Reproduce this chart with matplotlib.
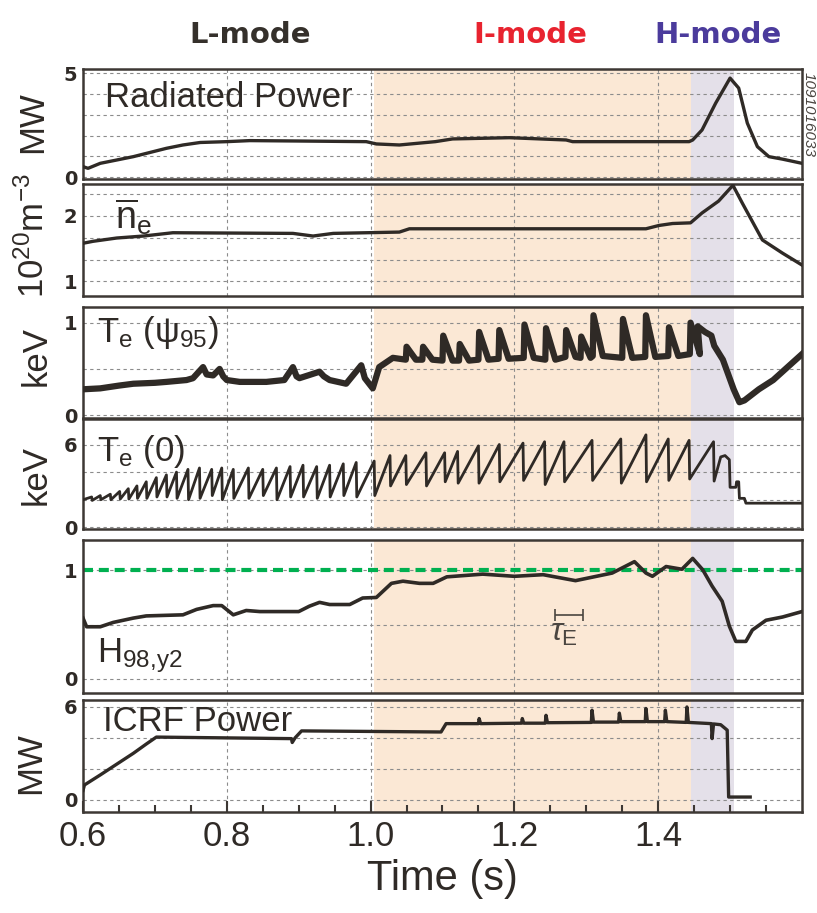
import matplotlib.pyplot as plt

plt.rcParams['font.family'] = ['Liberation Sans', 'DejaVu Sans']
plt.rcParams['mathtext.fontset'] = 'custom'
plt.rcParams['mathtext.rm'] = 'Liberation Sans'
plt.rcParams['mathtext.it'] = 'Liberation Sans:italic'
plt.rcParams['mathtext.bf'] = 'Liberation Sans:bold'

##### data ######

imode = (1.005, 1.445)
hmode = (1.445, 1.505)

prad_t = [0.600, 0.607, 0.624, 0.647, 0.670, 0.693, 0.716, 0.739, 0.763, 0.800, 0.832,
          0.901, 0.994, 1.008, 1.040, 1.090, 1.114, 1.193, 1.272, 1.281, 1.443, 1.448,
          1.461, 1.480, 1.500, 1.512, 1.524, 1.538, 1.554, 1.573, 1.600]
prad_v = [0.51, 0.43, 0.67, 0.83, 0.99, 1.19, 1.39, 1.55, 1.67, 1.71, 1.76,
          1.74, 1.71, 1.60, 1.55, 1.71, 1.84, 1.90, 1.79, 1.71, 1.71, 1.79,
          2.27, 3.56, 4.76, 4.28, 2.60, 1.47, 0.99, 0.87, 0.67]

ne_t = [0.600, 0.614, 0.647, 0.684, 0.725, 0.892, 0.920, 0.948, 1.040, 1.054, 1.383,
        1.401, 1.420, 1.445, 1.461, 1.484, 1.504, 1.517, 1.545, 1.573, 1.600]
ne_v = [1.58, 1.61, 1.66, 1.69, 1.74, 1.73, 1.69, 1.73, 1.75, 1.80, 1.80,
        1.85, 1.88, 1.89, 2.04, 2.22, 2.46, 2.19, 1.63, 1.43, 1.25]

# Te(psi95): L-mode trace, then bursts in I-mode (peak, decay back to base), then H-mode
te95_l_t = [0.600, 0.624, 0.650, 0.670, 0.700, 0.716, 0.744, 0.753, 0.767, 0.772, 0.781,
            0.790, 0.795, 0.800, 0.818, 0.855, 0.880, 0.892, 0.897, 0.901, 0.929, 0.935,
            0.943, 0.966, 0.987, 0.992, 1.003, 1.012, 1.031]
te95_l_v = [0.28, 0.29, 0.32, 0.34, 0.35, 0.36, 0.38, 0.40, 0.52, 0.44, 0.43,
            0.50, 0.42, 0.38, 0.36, 0.36, 0.38, 0.52, 0.42, 0.40, 0.47, 0.42,
            0.38, 0.34, 0.54, 0.40, 0.29, 0.52, 0.62]
te95_peak_t = [1.050, 1.073, 1.101, 1.124, 1.151, 1.179, 1.214, 1.244, 1.272, 1.293,
               1.310, 1.351, 1.383, 1.415, 1.445]
te95_peak_v = [0.74, 0.74, 0.86, 0.77, 0.90, 0.92, 0.98, 0.94, 0.92, 0.85,
               1.08, 1.04, 1.08, 0.95, 1.00]
te95_base_v = [0.60, 0.60, 0.59, 0.59, 0.60, 0.61, 0.62, 0.60, 0.63, 0.62,
               0.64, 0.62, 0.63, 0.64, 0.66]
te95_decay = 0.013
te95_h_t = [1.455, 1.465, 1.474, 1.478, 1.490, 1.505, 1.513, 1.520, 1.540, 1.560, 1.580, 1.600]
te95_h_v = [0.96, 0.90, 0.86, 0.75, 0.60, 0.28, 0.14, 0.16, 0.28, 0.38, 0.52, 0.66]

# Te(0) sawteeth: crash time, value before crash, value after crash
saw_t = [0.612, 0.624, 0.638, 0.651, 0.663, 0.675, 0.688, 0.702, 0.716, 0.730, 0.746,
         0.762, 0.779, 0.793, 0.809, 0.830, 0.850, 0.869, 0.888, 0.906, 0.925, 0.943,
         0.962, 0.980, 1.005, 1.027, 1.049, 1.077, 1.103, 1.121, 1.150, 1.179, 1.212,
         1.242, 1.269, 1.308, 1.348, 1.383, 1.414, 1.443, 1.477]
saw_top = [2.2, 2.3, 2.4, 2.6, 2.8, 3.0, 3.3, 3.6, 3.8, 4.0, 4.2,
           4.3, 4.2, 4.3, 4.2, 4.3, 4.2, 4.3, 4.4, 4.5, 4.4, 4.5,
           4.6, 4.7, 4.8, 5.2, 5.2, 5.4, 5.4, 5.5, 5.9, 6.0, 6.1,
           6.2, 6.2, 6.3, 6.4, 6.7, 6.4, 6.3, 6.2]
saw_bot = [1.95, 2.0, 2.0, 2.05, 2.05, 2.1, 2.1, 2.2, 2.2, 2.1, 2.0,
           2.1, 2.3, 2.0, 2.1, 2.1, 2.3, 2.0, 2.2, 2.2, 2.1, 2.2,
           2.3, 2.2, 2.3, 3.0, 3.1, 3.0, 3.3, 3.2, 3.2, 3.3, 3.4,
           3.1, 3.3, 3.4, 3.2, 3.3, 3.4, 3.5, 3.35]
te0_start = (0.600, 2.0)
te0_tail_t = [1.487, 1.493, 1.499, 1.500, 1.508, 1.509, 1.512, 1.513, 1.520, 1.522, 1.600]
te0_tail_v = [5.1, 5.2, 4.9, 2.9, 2.9, 3.3, 3.3, 2.1, 2.1, 1.75, 1.75]

h98_t = [0.600, 0.605, 0.624, 0.642, 0.670, 0.688, 0.739, 0.758, 0.781, 0.793, 0.809,
         0.827, 0.846, 0.900, 0.915, 0.929, 0.943, 0.971, 0.989, 1.008, 1.029, 1.045,
         1.068, 1.087, 1.106, 1.156, 1.200, 1.240, 1.285, 1.336, 1.367, 1.383, 1.392,
         1.411, 1.433, 1.448, 1.462, 1.475, 1.489, 1.499, 1.508, 1.522, 1.531, 1.550,
         1.573, 1.600]
h98_v = [0.56, 0.48, 0.48, 0.52, 0.56, 0.58, 0.59, 0.64, 0.675, 0.675, 0.59,
         0.63, 0.62, 0.62, 0.67, 0.705, 0.685, 0.685, 0.745, 0.75, 0.88, 0.90,
         0.88, 0.88, 0.94, 0.965, 0.945, 0.96, 0.905, 0.975, 1.08, 0.975, 0.945,
         1.035, 1.01, 1.11, 1.005, 0.855, 0.715, 0.485, 0.345, 0.345, 0.45, 0.54,
         0.57, 0.62]
tau_e = (1.2755, 0.0195)

icrf_t = [0.600, 0.602, 0.624, 0.647, 0.670, 0.688, 0.702, 0.890, 0.891, 0.895, 0.904,
          1.098, 1.105, 1.150, 1.151, 1.153, 1.210, 1.211, 1.213, 1.243, 1.244, 1.246,
          1.307, 1.308, 1.310, 1.345, 1.346, 1.348, 1.382, 1.383, 1.385, 1.409, 1.410,
          1.412, 1.439, 1.440, 1.442, 1.474, 1.475, 1.477, 1.487, 1.496, 1.498, 1.528]
icrf_v = [0.6, 0.95, 1.6, 2.3, 3.0, 3.6, 4.05, 3.95, 3.7, 4.0, 4.45,
          4.38, 4.92, 4.92, 5.25, 4.92, 4.95, 5.25, 4.95, 4.95, 5.46, 4.98,
          5.0, 5.79, 5.02, 5.02, 5.6, 5.05, 5.05, 5.9, 5.05, 5.05, 5.79,
          5.05, 5.0, 6.0, 5.0, 4.92, 3.95, 4.9, 4.85, 4.5, 0.17, 0.17]

##### figure ######

INK = '#2f2a26'
FRAME = '#3d3834'
GRID = '#8c8c8c'

fig = plt.figure(figsize=(8.17, 9.13), dpi=100)
L, W = 0.1016, 0.880
boxes = [(0.804, 0.1205), (0.6758, 0.1227), (0.5422, 0.1216),
         (0.4206, 0.1205), (0.2410, 0.1676), (0.1106, 0.1227)]
axs = [fig.add_axes([L, b, W, h]) for b, h in boxes]

ylims = [(-0.08, 5.2), (0.78, 2.48), (-0.03, 1.17), (-0.12, 7.85), (-0.13, 1.28), (-0.8, 6.45)]
ygrid = [[0, 1, 2, 3, 4, 5], [1, 4/3, 5/3, 2, 7/3], [0, 0.5, 1], [0, 2, 4, 6], [0, 0.5, 1], [0, 2, 4, 6]]
ylabs = [['0', '', '', '', '', '5'], ['1', '', '', '2', ''], ['0', '', '1'],
         ['0', '', '', '6'], ['0', '', '1'], ['0', '', '', '6']]

for ax, yl, yg, lab in zip(axs, ylims, ygrid, ylabs):
    ax.set_xlim(0.6, 1.6)
    ax.set_ylim(yl)
    ax.axvspan(*imode, color='#fbe8d5', lw=0, zorder=0)
    ax.axvspan(*hmode, color='#e4e0e9', lw=0, zorder=0)
    ax.set_yticks(yg, labels=lab)
    ax.set_xticks([0.8, 1.0, 1.2, 1.4])
    ax.grid(True, color=GRID, ls=(0, (3, 3)), lw=0.8, zorder=1)
    ax.tick_params(axis='both', length=0, labelsize=14, colors=INK, pad=4)
    for lbl in ax.get_yticklabels():
        lbl.set_fontweight('bold')
        lbl.set_family('DejaVu Sans')
    ax.tick_params(axis='x', labelbottom=False)
    for s in ax.spines.values():
        s.set_color(FRAME)
        s.set_linewidth(1.8)

lw = 2.4
axs[0].plot(prad_t, prad_v, color=INK, lw=lw, zorder=3)
axs[1].plot(ne_t, ne_v, color=INK, lw=lw, zorder=3)

t95 = list(te95_l_t)
v95 = list(te95_l_v)
for tp, vp, vb in zip(te95_peak_t, te95_peak_v, te95_base_v):
    t95 += [tp - 0.001, tp, tp + te95_decay]
    v95 += [vb, vp, vb]
t95 += te95_h_t
v95 += te95_h_v
axs[2].plot(t95, v95, color=INK, lw=4.5, zorder=3)

t0 = [te0_start[0]]
v0 = [te0_start[1]]
for tc, vt, vb in zip(saw_t, saw_top, saw_bot):
    t0 += [tc, tc + 0.0008]
    v0 += [vt, vb]
t0 += te0_tail_t
v0 += te0_tail_v
axs[3].plot(t0, v0, color=INK, lw=2.0, zorder=3)

axs[4].axhline(1.0, color='#00b050', lw=3, dashes=(2.4, 1.4), zorder=2)
axs[4].plot(h98_t, h98_v, color=INK, lw=2.6, zorder=3)
axs[4].errorbar(tau_e[0], 0.59, xerr=tau_e[1], color='#4a4540', lw=1.2, capsize=4, capthick=1.2)
axs[4].text(tau_e[0] - 0.006, 0.42, r'$\tau_\mathrm{E}$', fontsize=23, color='#4a4540', ha='center', va='center')

axs[5].plot(icrf_t, icrf_v, color=INK, lw=lw, zorder=3)

# panel titles
axs[0].text(0.03, 0.65, 'Radiated Power', fontsize=25, color=INK, transform=axs[0].transAxes)
axs[1].text(0.045, 0.6, r'$\overline{\mathrm{n}}_\mathrm{e}$', fontsize=27, color=INK, transform=axs[1].transAxes)
axs[2].text(0.02, 0.68, r'T$_\mathrm{e}$ ($\mathrm{\psi}_{95}$)', fontsize=25, color=INK, transform=axs[2].transAxes)
axs[3].text(0.02, 0.62, r'T$_\mathrm{e}$ (0)', fontsize=25, color=INK, transform=axs[3].transAxes)
axs[4].text(0.02, 0.2, r'H$_\mathrm{98{,}y2}$', fontsize=25, color=INK, transform=axs[4].transAxes)
axs[5].text(0.028, 0.72, 'ICRF Power', fontsize=25, color=INK, transform=axs[5].transAxes)

# bottom axis
ax = axs[-1]
ax.set_xticks([0.6, 0.8, 1.0, 1.2, 1.4], labels=['0.6', '0.8', '1.0', '1.2', '1.4'])
ax.set_xticks([0.65, 0.7, 0.75, 0.85, 0.9, 0.95, 1.05, 1.1, 1.15, 1.25, 1.3, 1.35,
               1.45, 1.5, 1.55], minor=True)
ax.tick_params(axis='x', which='major', direction='in', length=8, width=1.5,
               labelbottom=True, labelsize=25, pad=6, color=FRAME)
ax.tick_params(axis='x', which='minor', direction='in', length=5, width=1.5, color=FRAME)
ax.grid(True, which='major', color=GRID, ls=(0, (3, 3)), lw=0.8)
ax.set_xlabel('Time (s)', fontsize=30, color=INK, labelpad=4)

# y labels
fig.text(33/817, 1 - 122/913, 'MW', rotation=90, fontsize=25, color=INK, ha='center', va='center')
fig.text(34/817, 1 - 236/913, r'10$^{20}$m$^{-3}$', rotation=90, fontsize=25, color=INK, ha='center', va='center')
fig.text(36/817, 1 - 356/913, 'keV', rotation=90, fontsize=25, color=INK, ha='center', va='center')
fig.text(36/817, 1 - 475/913, 'keV', rotation=90, fontsize=25, color=INK, ha='center', va='center')
fig.text(31/817, 1 - 763/913, 'MW', rotation=90, fontsize=25, color=INK, ha='center', va='center')

# regime labels
fig.text(250/817, 1 - 35/913, 'L-mode', fontsize=21, fontweight='bold', family='DejaVu Sans',
         color='#35302b', ha='center', va='center')
fig.text(530/817, 1 - 35/913, 'I-mode', fontsize=21, fontweight='bold', family='DejaVu Sans',
         color='#e8232f', ha='center', va='center')
fig.text(718/817, 1 - 35/913, 'H-mode', fontsize=21, fontweight='bold', family='DejaVu Sans',
         color='#4b3b9c', ha='center', va='center')

fig.text(809/817, 1 - 114/913, '1091016033', rotation=-90, fontsize=11, style='italic',
         color='#4a4540', ha='center', va='center')

fig.savefig('out.png', dpi=100)
